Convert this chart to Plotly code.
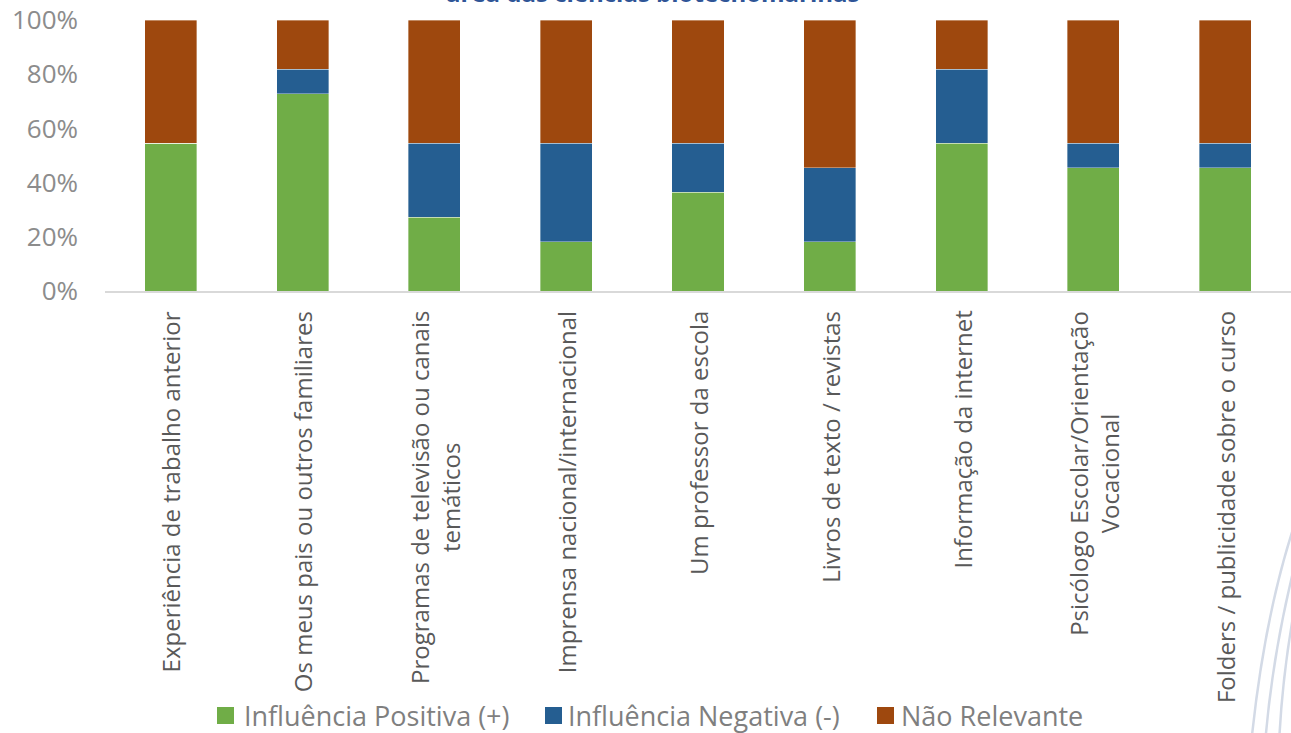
import plotly.graph_objects as go

categories = [
    "Experiência de trabalho anterior",
    "Os meus pais ou outros familiares",
    "Programas de televisão ou canais<br>temáticos",
    "Imprensa nacional/internacional",
    "Um professor da escola",
    "Livros de texto / revistas",
    "Informação da internet",
    "Psicólogo Escolar/Orientação<br>Vocacional",
    "Folders / publicidade sobre o curso",
]
positiva = [54.5, 72.7, 27.3, 18.2, 36.4, 18.2, 54.5, 45.5, 45.5]
negativa = [0.0, 9.1, 27.3, 36.4, 18.2, 27.3, 27.3, 9.1, 9.1]
nao_relevante = [45.5, 18.2, 45.4, 45.4, 45.4, 54.5, 18.2, 45.4, 45.4]
y_ticks = [0, 20, 40, 60, 80, 100]
y_tick_text = ["0%", "20%", "40%", "60%", "80%", "100%"]
series_names = ["Influência Positiva (+)", "Influência Negativa (-)", "Não Relevante"]
colors = ["#70AD47", "#255E91", "#9E480E"]
title_text = "área das ciências biotecnomarinas"

W, H = 1291, 733
ML, MT, MB = 105, 20, 442
PW, PH = W - ML, H - MT - MB


def px_x(p):
    return (p - ML) / PW


def px_y(p):
    return (H - MB - p) / PH


x_idx = list(range(len(categories)))

fig = go.Figure()
for name, vals, col in zip(series_names, [positiva, negativa, nao_relevante], colors):
    fig.add_trace(go.Bar(
        x=x_idx, y=vals, name=name,
        marker=dict(color=col, line=dict(width=0.6, color="rgba(255,255,255,0.6)")),
        hoverinfo="skip", showlegend=False,
    ))

label_font = dict(family="Open Sans, sans-serif", size=24, color="#595959")
for i, cat in enumerate(categories):
    fig.add_annotation(
        x=i, y=px_y(309), xref="x", yref="paper", text=cat, showarrow=False,
        textangle=-90, xanchor="center", yanchor="top", align="center",
        font=label_font,
    )

# title: only its lower edge is visible at the top of the reference
fig.add_annotation(
    x=px_x(653), y=px_y(11), xref="paper", yref="paper", text="<b>" + title_text + "</b>",
    showarrow=False, xanchor="center", yanchor="bottom",
    font=dict(family="Open Sans, sans-serif", size=24, color="#2F5597"),
)

# custom legend (larger square swatches like the reference)
legend_sq = [(217, 234), (545, 562), (877, 894)]
legend_tx = [242, 566, 899]
for (a, b), t, name, col in zip(legend_sq, legend_tx, series_names, colors):
    fig.add_shape(type="rect", xref="paper", yref="paper",
                  x0=px_x(a), x1=px_x(b), y0=px_y(724), y1=px_y(707),
                  fillcolor=col, line=dict(width=0))
    fig.add_annotation(x=px_x(t), y=px_y(715), xref="paper", yref="paper", text=name,
                       showarrow=False, xanchor="left", yanchor="middle",
                       font=dict(family="Open Sans, sans-serif", size=27, color="#7F7F7F"))

# decorative background curves (bottom right)
curves = [
    ((1296, 520), (1264, 615), (1251, 745)),
    ((1296, 560), (1272, 655), (1265, 745)),
    ((1296, 600), (1282, 675), (1279, 745)),
]
for (sx, sy), (cx, cy), (ex, ey) in curves:
    fig.add_shape(
        type="path", xref="paper", yref="paper",
        path=(f"M {px_x(sx)},{px_y(sy)} Q {px_x(cx)},{px_y(cy)} "
              f"{px_x(ex)},{px_y(ey)}"),
        line=dict(color="#D3DAE6", width=2.5),
    )

fig.update_layout(
    barmode="stack",
    bargap=0.605,
    width=W, height=H,
    margin=dict(l=ML, r=0, t=MT, b=MB, autoexpand=False),
    paper_bgcolor="white", plot_bgcolor="white",
    showlegend=False,
    xaxis=dict(
        range=[-0.5, len(categories) - 0.5], tickvals=x_idx, showticklabels=False,
        showgrid=False, zeroline=False, showline=True, linecolor="#D9D9D9", linewidth=2,
        fixedrange=True,
    ),
    yaxis=dict(
        range=[0, 100], tickvals=y_ticks, ticktext=y_tick_text, showgrid=False, zeroline=False,
        showline=False, ticklabelstandoff=26,
        tickfont=dict(family="Open Sans, sans-serif", size=26, color="#8C8C8C"),
        fixedrange=True,
    ),
)

fig.write_html(
    "out.html",
    config={"displayModeBar": False, "staticPlot": True},
    post_script="document.body.style.margin='0';document.body.style.overflow='hidden';",
)
